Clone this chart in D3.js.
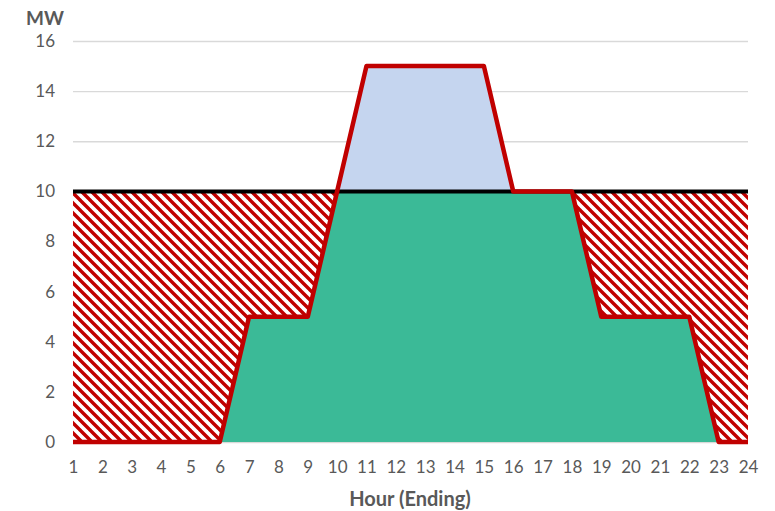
<!DOCTYPE html>
<html>
<head>
<meta charset="utf-8">
<script src="https://cdn.jsdelivr.net/npm/d3@7"></script>
<style>
  html, body { margin: 0; padding: 0; background: #fff; }
  svg { display: block; }
  text { font-family: Lato, "Open Sans", "Liberation Sans", sans-serif; }
</style>
</head>
<body>
<svg id="chart" width="775" height="511"></svg>
<script>
// Hourly load profile (MW) by hour ending
const hours = d3.range(1, 25);
const load = [0, 0, 0, 0, 0, 0, 5, 5, 5, 10, 15, 15, 15, 15, 15, 10, 10, 10, 5, 5, 5, 5, 0, 0];
const capacity = 10;
const yTicks = [0, 2, 4, 6, 8, 10, 12, 14, 16];
const xTicks = hours;

const data = hours.map((h, i) => ({ h, v: load[i] }));

const svg = d3.select("#chart");
const x = d3.scaleLinear().domain([1, 24]).range([73, 748]);
const y = d3.scaleLinear().domain([0, 16]).range([442, 41]);

const red = "#c00000";

// diagonal hatch for unused capacity
const defs = svg.append("defs");
const P = 10;
const pat = defs.append("pattern")
  .attr("id", "hatch")
  .attr("patternUnits", "userSpaceOnUse")
  .attr("width", P).attr("height", P);
pat.append("rect").attr("width", P).attr("height", P).attr("fill", "#fff");
pat.append("path")
  .attr("d", `M-1,-1 L${P + 1},${P + 1} M-1,${P - 1} L1,${P + 1} M${P - 1},-1 L${P + 1},1`)
  .attr("stroke", red).attr("stroke-width", 3.4);

// gridlines
svg.append("g").selectAll("line").data(yTicks).join("line")
  .attr("x1", x(1)).attr("x2", x(24))
  .attr("y1", d => y(d) + 0.5).attr("y2", d => y(d) + 0.5)
  .attr("stroke", "#d9d9d9").attr("stroke-width", 1.3);

// served load up to capacity
svg.append("path").datum(data)
  .attr("fill", "#3bba97")
  .attr("d", d3.area().x(d => x(d.h)).y0(y(0)).y1(d => y(Math.min(d.v, capacity))));

// load above capacity
svg.append("path").datum(data)
  .attr("fill", "#c5d5ef")
  .attr("d", d3.area().x(d => x(d.h)).y0(y(capacity)).y1(d => y(Math.max(d.v, capacity))));

// unused capacity below the limit
svg.append("path").datum(data)
  .attr("fill", "url(#hatch)")
  .attr("d", d3.area().x(d => x(d.h)).y0(y(capacity)).y1(d => y(Math.min(d.v, capacity))));

// capacity line
svg.append("line")
  .attr("x1", x(1)).attr("x2", x(24))
  .attr("y1", y(capacity)).attr("y2", y(capacity))
  .attr("stroke", "#000").attr("stroke-width", 4);

// load line
svg.append("path").datum(data)
  .attr("fill", "none")
  .attr("stroke", red).attr("stroke-width", 4.5)
  .attr("stroke-linejoin", "round")
  .attr("d", d3.line().x(d => x(d.h)).y(d => y(d.v)));

// y axis labels
const yAxis = svg.append("g").attr("transform", `translate(${x(1) - 18},0)`)
  .call(d3.axisLeft(y).tickValues(yTicks).tickSize(0).tickPadding(0));
yAxis.select(".domain").remove();
yAxis.selectAll("text")
  .attr("fill", "#595959").attr("font-size", 17)
  .attr("font-family", "Lato, 'Open Sans', sans-serif");

// x axis labels
const xAxis = svg.append("g").attr("transform", `translate(0,${y(0) + 19})`)
  .call(d3.axisBottom(x).tickValues(xTicks).tickSize(0).tickPadding(0).tickFormat(d3.format("d")));
xAxis.select(".domain").remove();
xAxis.selectAll("text")
  .attr("fill", "#595959").attr("font-size", 17)
  .attr("font-family", "Lato, 'Open Sans', sans-serif");

// axis titles
svg.append("text").attr("x", 45).attr("y", 25)
  .attr("text-anchor", "middle").attr("font-weight", "bold")
  .attr("font-size", 19).attr("fill", "#595959").text("MW");
svg.append("text").attr("x", 410).attr("y", 506)
  .attr("text-anchor", "middle").attr("font-weight", "bold")
  .attr("font-size", 20).attr("fill", "#595959").text("Hour (Ending)");
</script>
</body>
</html>
